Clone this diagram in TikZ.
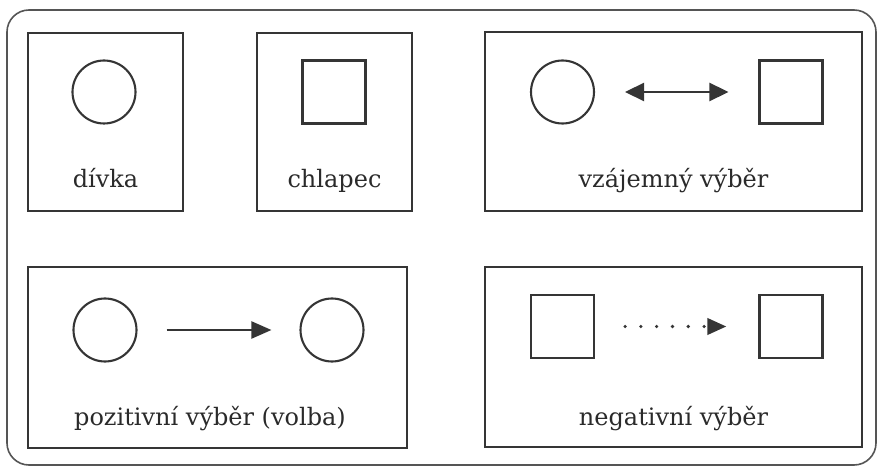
\documentclass[tikz,border=0pt]{standalone}
\usepackage{fontspec}
\setmainfont{DejaVu Serif}
\usetikzlibrary{arrows.meta}
\definecolor{ink}{HTML}{353535}
\definecolor{txt}{HTML}{2A2A2A}
\definecolor{frameink}{HTML}{555555}
\begin{document}
\begin{tikzpicture}[x=1pt,y=-1pt,
  frame/.style={draw=frameink, line width=1.6pt, rounded corners=22pt, inner sep=0pt},
  panel/.style={draw=ink, line width=2.3pt, inner sep=0pt},
  girl/.style={circle, draw=ink, line width=2.1pt, minimum size=63pt, inner sep=0pt},
  boy/.style={rectangle, draw=ink, line width=2.1pt, minimum width=63pt, minimum height=63pt, inner sep=0pt},
  lbl/.style={text=txt, font=\fontsize{24}{28}\selectfont, anchor=base, inner sep=0pt},
  rel/.style={draw=ink, line width=2.6pt, shorten >=30pt, shorten <=30pt}
]
\useasboundingbox (0,0) rectangle (879,468);
\node[frame, minimum width=869pt, minimum height=455pt] (frame) at (441.5,237.5) {};
% panels
\node[panel, minimum width=155pt, minimum height=178pt] (b1) at (105.5,122) {};
\node[panel, minimum width=155pt, minimum height=178pt] (b2) at (334.5,122) {};
\node[panel, minimum width=377pt, minimum height=179pt] (b3) at (673.5,121.5) {};
\node[panel, minimum width=379pt, minimum height=181pt] (b4) at (217.5,357.5) {};
\node[panel, minimum width=377pt, minimum height=180pt] (b5) at (673.5,357) {};
% shapes
\node[girl] (g1) at (104,92) {};
\node[boy] (s1) at (334,92) {};
\node[girl] (g2) at (562.5,92) {};
\node[boy] (s2) at (791,92) {};
\node[girl] (g3) at (105,330) {};
\node[girl] (g4) at (332,330) {};
\node[boy] (s3) at (562.5,326.5) {};
\node[boy] (s4) at (791,326.5) {};
% connectors
\draw[rel, {Triangle[length=19pt, width=18pt]}-{Triangle[length=19pt, width=18pt]}] (g2) -- (s2);
\draw[rel, line width=2.3pt, -{Triangle[length=20pt, width=17pt]}, shorten <=29pt, shorten >=28pt] (g3) -- (g4);
\draw[rel, line width=3.6pt, line cap=round, dash pattern=on 0pt off 15.8pt, -{Triangle[length=19pt, width=16pt]}, shorten <=30pt, shorten >=32pt] (s3) -- (s4);
% labels
\node[lbl] (t1) at (105.5,188) {dívka};
\node[lbl] (t2) at (334.5,188) {chlapec};
\node[lbl] (t3) at (673.5,188) {vzájemný výběr};
\node[lbl] (t4) at (210,425) {pozitivní výběr (volba)};
\node[lbl] (t5) at (673.5,425) {negativní výběr};
\end{tikzpicture}
\end{document}
